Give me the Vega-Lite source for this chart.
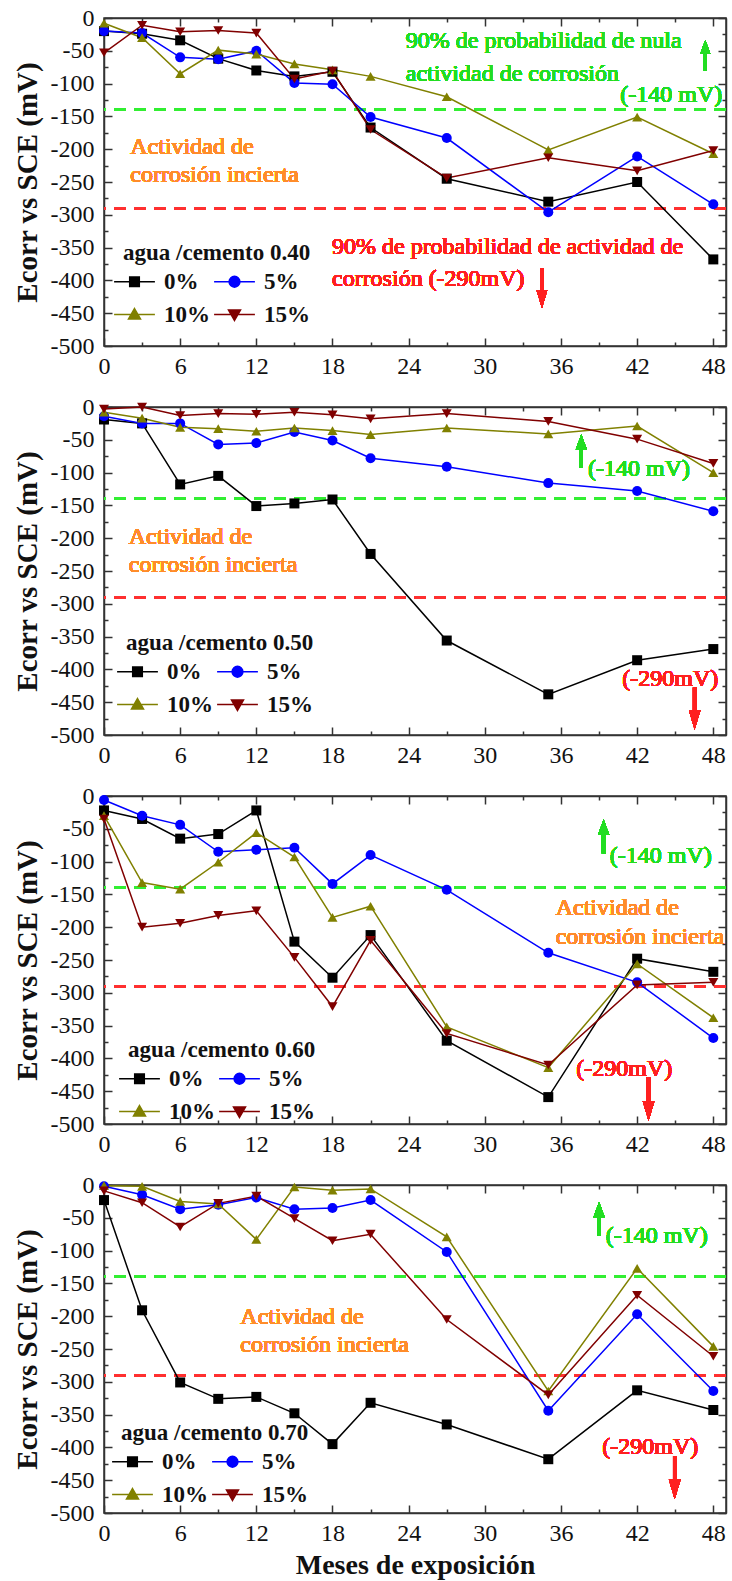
{
"$schema":"https://vega.github.io/schema/vega-lite/v6.json",
"padding":{"left":12,"top":5,"right":0,"bottom":0},
"background":"white",
"datasets":{"d":[
{"w":"0.40","s":"0%","m":0,"v":-20},{"w":"0.40","s":"0%","m":3,"v":-24},{"w":"0.40","s":"0%","m":6,"v":-34},{"w":"0.40","s":"0%","m":9,"v":-62},{"w":"0.40","s":"0%","m":12,"v":-80},{"w":"0.40","s":"0%","m":15,"v":-89},{"w":"0.40","s":"0%","m":18,"v":-82},{"w":"0.40","s":"0%","m":21,"v":-167},{"w":"0.40","s":"0%","m":27,"v":-245},{"w":"0.40","s":"0%","m":35,"v":-280},{"w":"0.40","s":"0%","m":42,"v":-250},{"w":"0.40","s":"0%","m":48,"v":-368},
{"w":"0.40","s":"5%","m":0,"v":-20},{"w":"0.40","s":"5%","m":3,"v":-23},{"w":"0.40","s":"5%","m":6,"v":-60},{"w":"0.40","s":"5%","m":9,"v":-63},{"w":"0.40","s":"5%","m":12,"v":-50},{"w":"0.40","s":"5%","m":15,"v":-99},{"w":"0.40","s":"5%","m":18,"v":-101},{"w":"0.40","s":"5%","m":21,"v":-151},{"w":"0.40","s":"5%","m":27,"v":-183},{"w":"0.40","s":"5%","m":35,"v":-296},{"w":"0.40","s":"5%","m":42,"v":-211},{"w":"0.40","s":"5%","m":48,"v":-284},
{"w":"0.40","s":"10%","m":0,"v":-8},{"w":"0.40","s":"10%","m":3,"v":-30},{"w":"0.40","s":"10%","m":6,"v":-85},{"w":"0.40","s":"10%","m":9,"v":-49},{"w":"0.40","s":"10%","m":12,"v":-55},{"w":"0.40","s":"10%","m":15,"v":-70},{"w":"0.40","s":"10%","m":18,"v":-79},{"w":"0.40","s":"10%","m":21,"v":-89},{"w":"0.40","s":"10%","m":27,"v":-120},{"w":"0.40","s":"10%","m":35,"v":-201},{"w":"0.40","s":"10%","m":42,"v":-151},{"w":"0.40","s":"10%","m":48,"v":-207},
{"w":"0.40","s":"15%","m":0,"v":-53},{"w":"0.40","s":"15%","m":3,"v":-11},{"w":"0.40","s":"15%","m":6,"v":-21},{"w":"0.40","s":"15%","m":9,"v":-19},{"w":"0.40","s":"15%","m":12,"v":-23},{"w":"0.40","s":"15%","m":15,"v":-93},{"w":"0.40","s":"15%","m":18,"v":-81},{"w":"0.40","s":"15%","m":21,"v":-170},{"w":"0.40","s":"15%","m":27,"v":-244},{"w":"0.40","s":"15%","m":35,"v":-213},{"w":"0.40","s":"15%","m":42,"v":-233},{"w":"0.40","s":"15%","m":48,"v":-202},
{"w":"0.50","s":"0%","m":0,"v":-19},{"w":"0.50","s":"0%","m":3,"v":-25},{"w":"0.50","s":"0%","m":6,"v":-118},{"w":"0.50","s":"0%","m":9,"v":-105},{"w":"0.50","s":"0%","m":12,"v":-151},{"w":"0.50","s":"0%","m":15,"v":-147},{"w":"0.50","s":"0%","m":18,"v":-141},{"w":"0.50","s":"0%","m":21,"v":-224},{"w":"0.50","s":"0%","m":27,"v":-356},{"w":"0.50","s":"0%","m":35,"v":-438},{"w":"0.50","s":"0%","m":42,"v":-386},{"w":"0.50","s":"0%","m":48,"v":-369},
{"w":"0.50","s":"5%","m":0,"v":-14},{"w":"0.50","s":"5%","m":3,"v":-25},{"w":"0.50","s":"5%","m":6,"v":-25},{"w":"0.50","s":"5%","m":9,"v":-57},{"w":"0.50","s":"5%","m":12,"v":-55},{"w":"0.50","s":"5%","m":15,"v":-38},{"w":"0.50","s":"5%","m":18,"v":-51},{"w":"0.50","s":"5%","m":21,"v":-78},{"w":"0.50","s":"5%","m":27,"v":-91},{"w":"0.50","s":"5%","m":35,"v":-116},{"w":"0.50","s":"5%","m":42,"v":-128},{"w":"0.50","s":"5%","m":48,"v":-159},
{"w":"0.50","s":"10%","m":0,"v":-8},{"w":"0.50","s":"10%","m":3,"v":-17},{"w":"0.50","s":"10%","m":6,"v":-31},{"w":"0.50","s":"10%","m":9,"v":-33},{"w":"0.50","s":"10%","m":12,"v":-37},{"w":"0.50","s":"10%","m":15,"v":-32},{"w":"0.50","s":"10%","m":18,"v":-36},{"w":"0.50","s":"10%","m":21,"v":-42},{"w":"0.50","s":"10%","m":27,"v":-32},{"w":"0.50","s":"10%","m":35,"v":-41},{"w":"0.50","s":"10%","m":42,"v":-29},{"w":"0.50","s":"10%","m":48,"v":-100},
{"w":"0.50","s":"15%","m":0,"v":-3},{"w":"0.50","s":"15%","m":3,"v":0},{"w":"0.50","s":"15%","m":6,"v":-13},{"w":"0.50","s":"15%","m":9,"v":-10},{"w":"0.50","s":"15%","m":12,"v":-11},{"w":"0.50","s":"15%","m":15,"v":-8},{"w":"0.50","s":"15%","m":18,"v":-12},{"w":"0.50","s":"15%","m":21,"v":-18},{"w":"0.50","s":"15%","m":27,"v":-10},{"w":"0.50","s":"15%","m":35,"v":-22},{"w":"0.50","s":"15%","m":42,"v":-49},{"w":"0.50","s":"15%","m":48,"v":-86},
{"w":"0.60","s":"0%","m":0,"v":-22},{"w":"0.60","s":"0%","m":3,"v":-35},{"w":"0.60","s":"0%","m":6,"v":-65},{"w":"0.60","s":"0%","m":9,"v":-58},{"w":"0.60","s":"0%","m":12,"v":-22},{"w":"0.60","s":"0%","m":15,"v":-222},{"w":"0.60","s":"0%","m":18,"v":-277},{"w":"0.60","s":"0%","m":21,"v":-212},{"w":"0.60","s":"0%","m":27,"v":-373},{"w":"0.60","s":"0%","m":35,"v":-459},{"w":"0.60","s":"0%","m":42,"v":-248},{"w":"0.60","s":"0%","m":48,"v":-268},
{"w":"0.60","s":"5%","m":0,"v":-6},{"w":"0.60","s":"5%","m":3,"v":-30},{"w":"0.60","s":"5%","m":6,"v":-44},{"w":"0.60","s":"5%","m":9,"v":-85},{"w":"0.60","s":"5%","m":12,"v":-82},{"w":"0.60","s":"5%","m":15,"v":-79},{"w":"0.60","s":"5%","m":18,"v":-134},{"w":"0.60","s":"5%","m":21,"v":-90},{"w":"0.60","s":"5%","m":27,"v":-143},{"w":"0.60","s":"5%","m":35,"v":-239},{"w":"0.60","s":"5%","m":42,"v":-284},{"w":"0.60","s":"5%","m":48,"v":-369},
{"w":"0.60","s":"10%","m":0,"v":-30},{"w":"0.60","s":"10%","m":3,"v":-132},{"w":"0.60","s":"10%","m":6,"v":-142},{"w":"0.60","s":"10%","m":9,"v":-101},{"w":"0.60","s":"10%","m":12,"v":-56},{"w":"0.60","s":"10%","m":15,"v":-93},{"w":"0.60","s":"10%","m":18,"v":-185},{"w":"0.60","s":"10%","m":21,"v":-168},{"w":"0.60","s":"10%","m":27,"v":-352},{"w":"0.60","s":"10%","m":35,"v":-414},{"w":"0.60","s":"10%","m":42,"v":-256},{"w":"0.60","s":"10%","m":48,"v":-338},
{"w":"0.60","s":"15%","m":0,"v":-35},{"w":"0.60","s":"15%","m":3,"v":-200},{"w":"0.60","s":"15%","m":6,"v":-194},{"w":"0.60","s":"15%","m":9,"v":-182},{"w":"0.60","s":"15%","m":12,"v":-175},{"w":"0.60","s":"15%","m":15,"v":-246},{"w":"0.60","s":"15%","m":18,"v":-321},{"w":"0.60","s":"15%","m":21,"v":-220},{"w":"0.60","s":"15%","m":27,"v":-362},{"w":"0.60","s":"15%","m":35,"v":-410},{"w":"0.60","s":"15%","m":42,"v":-288},{"w":"0.60","s":"15%","m":48,"v":-284},
{"w":"0.70","s":"0%","m":0,"v":-23},{"w":"0.70","s":"0%","m":3,"v":-191},{"w":"0.70","s":"0%","m":6,"v":-301},{"w":"0.70","s":"0%","m":9,"v":-326},{"w":"0.70","s":"0%","m":12,"v":-323},{"w":"0.70","s":"0%","m":15,"v":-348},{"w":"0.70","s":"0%","m":18,"v":-395},{"w":"0.70","s":"0%","m":21,"v":-332},{"w":"0.70","s":"0%","m":27,"v":-365},{"w":"0.70","s":"0%","m":35,"v":-418},{"w":"0.70","s":"0%","m":42,"v":-313},{"w":"0.70","s":"0%","m":48,"v":-343},
{"w":"0.70","s":"5%","m":0,"v":-2},{"w":"0.70","s":"5%","m":3,"v":-15},{"w":"0.70","s":"5%","m":6,"v":-37},{"w":"0.70","s":"5%","m":9,"v":-30},{"w":"0.70","s":"5%","m":12,"v":-19},{"w":"0.70","s":"5%","m":15,"v":-37},{"w":"0.70","s":"5%","m":18,"v":-35},{"w":"0.70","s":"5%","m":21,"v":-23},{"w":"0.70","s":"5%","m":27,"v":-102},{"w":"0.70","s":"5%","m":35,"v":-344},{"w":"0.70","s":"5%","m":42,"v":-197},{"w":"0.70","s":"5%","m":48,"v":-314},
{"w":"0.70","s":"10%","m":0,"v":-1},{"w":"0.70","s":"10%","m":3,"v":-2},{"w":"0.70","s":"10%","m":6,"v":-25},{"w":"0.70","s":"10%","m":9,"v":-29},{"w":"0.70","s":"10%","m":12,"v":-83},{"w":"0.70","s":"10%","m":15,"v":-3},{"w":"0.70","s":"10%","m":18,"v":-8},{"w":"0.70","s":"10%","m":21,"v":-6},{"w":"0.70","s":"10%","m":27,"v":-79},{"w":"0.70","s":"10%","m":35,"v":-314},{"w":"0.70","s":"10%","m":42,"v":-127},{"w":"0.70","s":"10%","m":48,"v":-246},
{"w":"0.70","s":"15%","m":0,"v":-9},{"w":"0.70","s":"15%","m":3,"v":-27},{"w":"0.70","s":"15%","m":6,"v":-64},{"w":"0.70","s":"15%","m":9,"v":-28},{"w":"0.70","s":"15%","m":12,"v":-17},{"w":"0.70","s":"15%","m":15,"v":-51},{"w":"0.70","s":"15%","m":18,"v":-85},{"w":"0.70","s":"15%","m":21,"v":-75},{"w":"0.70","s":"15%","m":27,"v":-205},{"w":"0.70","s":"15%","m":35,"v":-320},{"w":"0.70","s":"15%","m":42,"v":-168},{"w":"0.70","s":"15%","m":48,"v":-261}
]},
"spacing":61,
"bounds":"flush",
"resolve":{"scale":{"color":"independent","fill":"independent","stroke":"independent","shape":"independent"},"legend":{"color":"independent","fill":"independent","stroke":"independent","shape":"independent"}},
"vconcat":[
{"width":622,"height":328,"data":{"name":"d"},"transform":[{"filter":"datum.w === '0.40'"}],
"resolve":{"axis":{"x":"independent","y":"independent"},"scale":{"fill":"independent","stroke":"independent","shape":"independent"}},
"layer":[
{"mark":{"type":"rule","color":"#33EE33","strokeWidth":2,"strokeDash":[12,8]},"encoding":{"y":{"datum":-140,"type":"quantitative","axis":null}}},
{"mark":{"type":"rule","color":"#FF3030","strokeWidth":2,"strokeDash":[12,8]},"encoding":{"y":{"datum":-290,"type":"quantitative","axis":null}}},
{"mark":{"type":"text","text":"90% de probabilidad de nula","align":"left","baseline":"middle","fontSize":24,"fontWeight":"normal","color":"#22DD22"},"encoding":{"x":{"datum":23.77,"type":"quantitative","axis":null},"y":{"datum":-35.1,"type":"quantitative","axis":null}}},
{"mark":{"type":"text","text":"actividad de corrosión","align":"left","baseline":"middle","fontSize":24,"fontWeight":"normal","color":"#22DD22"},"encoding":{"x":{"datum":23.77,"type":"quantitative","axis":null},"y":{"datum":-85.8,"type":"quantitative","axis":null}}},
{"mark":{"type":"text","text":"(-140 mV)","align":"right","baseline":"middle","fontSize":24,"fontWeight":"normal","color":"#22DD22"},"encoding":{"x":{"datum":48.71,"type":"quantitative","axis":null},"y":{"datum":-117.8,"type":"quantitative","axis":null}}},
{"mark":{"type":"text","text":"Actividad de","align":"left","baseline":"middle","fontSize":24,"fontWeight":"normal","color":"#FF8C2A"},"encoding":{"x":{"datum":2.07,"type":"quantitative","axis":null},"y":{"datum":-196.2,"type":"quantitative","axis":null}}},
{"mark":{"type":"text","text":"corrosión incierta","align":"left","baseline":"middle","fontSize":24,"fontWeight":"normal","color":"#FF8C2A"},"encoding":{"x":{"datum":2.07,"type":"quantitative","axis":null},"y":{"datum":-239.3,"type":"quantitative","axis":null}}},
{"mark":{"type":"text","text":"90% de probabilidad de actividad de","align":"left","baseline":"middle","fontSize":24,"fontWeight":"normal","color":"#FF2020"},"encoding":{"x":{"datum":17.96,"type":"quantitative","axis":null},"y":{"datum":-349.1,"type":"quantitative","axis":null}}},
{"mark":{"type":"text","text":"corrosión (-290mV)","align":"left","baseline":"middle","fontSize":24,"fontWeight":"normal","color":"#FF2020"},"encoding":{"x":{"datum":17.96,"type":"quantitative","axis":null},"y":{"datum":-398.3,"type":"quantitative","axis":null}}},
{"mark":{"type":"point","shape":"M-0.1,1V-0.1H-0.33L0,-1L0.33,-0.1H0.1V1Z","size":961,"filled":true,"color":"#22DD22","opacity":1},"encoding":{"x":{"datum":47.37,"type":"quantitative","axis":null},"y":{"datum":-57.2,"type":"quantitative","axis":null}}},
{"mark":{"type":"point","shape":"M-0.08,-1V0.1H-0.27L0,1L0.27,0.1H0.08V-1Z","size":1600,"filled":true,"color":"#FF2020","opacity":1},"encoding":{"x":{"datum":34.5,"type":"quantitative","axis":null},"y":{"datum":-411.6,"type":"quantitative","axis":null}}},
{"mark":{"type":"line","strokeWidth":1.5},"encoding":{
"x":{"field":"m","type":"quantitative","scale":{"domain":[0,49],"nice":false,"zero":false},"axis":{"orient":"bottom","values":[0,3,6,9,12,15,18,21,24,27,30,33,36,39,42,45,48],"labelExpr":"datum.value % 6 === 0 ? '' + datum.value : ''","tickSize":{"condition":{"test":"datum.value % 6 === 0","value":-8},"value":-4},"labelPadding":16,"title":null}},
"y":{"field":"v","type":"quantitative","scale":{"domain":[-500,0],"nice":false,"zero":false},"axis":{"orient":"left","values":[-500,-475,-450,-425,-400,-375,-350,-325,-300,-275,-250,-225,-200,-175,-150,-125,-100,-75,-50,-25,0],"labelExpr":"datum.value % 50 === 0 ? '' + datum.value : ''","tickSize":{"condition":{"test":"datum.value % 50 === 0","value":-8},"value":-4},"labelPadding":18,"title":"Ecorr vs SCE (mV)","titleFontSize":29,"titlePadding":8}},
"color":{"field":"s","type":"nominal","scale":{"domain":["0%","5%","10%","15%"],"range":["#000000","#0000FF","#808000","#800000"]},"legend":null}}},
{"mark":{"type":"point","filled":true,"size":100,"opacity":1},"encoding":{
"x":{"field":"m","type":"quantitative","axis":null},"y":{"field":"v","type":"quantitative","axis":null},
"color":{"field":"s","type":"nominal","scale":{"domain":["0%","5%","10%","15%"],"range":["#000000","#0000FF","#808000","#800000"]},"legend":null},
"shape":{"field":"s","type":"nominal","scale":{"domain":["0%","5%","10%","15%"],"range":["square","circle","triangle-up","triangle-down"]},"legend":null}}},
{"transform":[{"filter":"datum.m < -1"}],"mark":{"type":"point","filled":true,"opacity":1},"encoding":{
"x":{"field":"m","type":"quantitative","axis":{"orient":"top","values":[0,3,6,9,12,15,18,21,24,27,30,33,36,39,42,45,48],"labels":false,"tickSize":{"condition":{"test":"datum.value % 6 === 0","value":-8},"value":-4},"title":null}},
"y":{"field":"v","type":"quantitative","axis":{"orient":"right","values":[-500,-475,-450,-425,-400,-375,-350,-325,-300,-275,-250,-225,-200,-175,-150,-125,-100,-75,-50,-25,0],"labels":false,"tickSize":{"condition":{"test":"datum.value % 50 === 0","value":-8},"value":-4},"title":null}},
"fill":{"field":"s","type":"nominal","scale":{"domain":["0%","10%","5%","15%"],"range":["#000000","#808000","#0000FF","#800000"]},"legend":{"title":"agua /cemento 0.40","orient":"none","legendX":19,"legendY":224,"columns":2}},
"stroke":{"field":"s","type":"nominal","scale":{"domain":["0%","10%","5%","15%"],"range":["#000000","#808000","#0000FF","#800000"]},"legend":{"title":"agua /cemento 0.40","orient":"none","legendX":19,"legendY":224,"columns":2}},
"shape":{"field":"s","type":"nominal","scale":{"domain":["0%","10%","5%","15%"],"range":["M-3.4,0H3.4M-0.8,-0.8H0.8V0.8H-0.8Z","M-3.4,0H3.4M0,-1L1,0.75H-1Z","M-3.4,0H3.4M-0.9,0A0.9,0.9,0,1,1,0.9,0A0.9,0.9,0,1,1,-0.9,0Z","M-3.4,0H3.4M0,1L1,-0.75H-1Z"]},"legend":{"title":"agua /cemento 0.40","orient":"none","legendX":19,"legendY":224,"columns":2}}}}
]},
{"width":622,"height":328,"data":{"name":"d"},"transform":[{"filter":"datum.w === '0.50'"}],
"resolve":{"axis":{"x":"independent","y":"independent"},"scale":{"fill":"independent","stroke":"independent","shape":"independent"}},
"layer":[
{"mark":{"type":"rule","color":"#33EE33","strokeWidth":2,"strokeDash":[12,8]},"encoding":{"y":{"datum":-140,"type":"quantitative","axis":null}}},
{"mark":{"type":"rule","color":"#FF3030","strokeWidth":2,"strokeDash":[12,8]},"encoding":{"y":{"datum":-290,"type":"quantitative","axis":null}}},
{"mark":{"type":"text","text":"(-140 mV)","align":"left","baseline":"middle","fontSize":24,"fontWeight":"normal","color":"#22DD22"},"encoding":{"x":{"datum":38.13,"type":"quantitative","axis":null},"y":{"datum":-95,"type":"quantitative","axis":null}}},
{"mark":{"type":"text","text":"Actividad de","align":"left","baseline":"middle","fontSize":24,"fontWeight":"normal","color":"#FF8C2A"},"encoding":{"x":{"datum":1.95,"type":"quantitative","axis":null},"y":{"datum":-197.7,"type":"quantitative","axis":null}}},
{"mark":{"type":"text","text":"corrosión incierta","align":"left","baseline":"middle","fontSize":24,"fontWeight":"normal","color":"#FF8C2A"},"encoding":{"x":{"datum":1.95,"type":"quantitative","axis":null},"y":{"datum":-240.9,"type":"quantitative","axis":null}}},
{"mark":{"type":"text","text":"(-290mV)","align":"left","baseline":"middle","fontSize":24,"fontWeight":"normal","color":"#FF2020"},"encoding":{"x":{"datum":40.83,"type":"quantitative","axis":null},"y":{"datum":-415.1,"type":"quantitative","axis":null}}},
{"mark":{"type":"point","shape":"M-0.1,1V-0.1H-0.33L0,-1L0.33,-0.1H0.1V1Z","size":1089,"filled":true,"color":"#22DD22","opacity":1},"encoding":{"x":{"datum":37.6,"type":"quantitative","axis":null},"y":{"datum":-67,"type":"quantitative","axis":null}}},
{"mark":{"type":"point","shape":"M-0.08,-1V0.1H-0.27L0,1L0.27,0.1H0.08V-1Z","size":1764,"filled":true,"color":"#FF2020","opacity":1},"encoding":{"x":{"datum":46.53,"type":"quantitative","axis":null},"y":{"datum":-459.6,"type":"quantitative","axis":null}}},
{"mark":{"type":"line","strokeWidth":1.5},"encoding":{
"x":{"field":"m","type":"quantitative","scale":{"domain":[0,49],"nice":false,"zero":false},"axis":{"orient":"bottom","values":[0,3,6,9,12,15,18,21,24,27,30,33,36,39,42,45,48],"labelExpr":"datum.value % 6 === 0 ? '' + datum.value : ''","tickSize":{"condition":{"test":"datum.value % 6 === 0","value":-8},"value":-4},"labelPadding":16,"title":null}},
"y":{"field":"v","type":"quantitative","scale":{"domain":[-500,0],"nice":false,"zero":false},"axis":{"orient":"left","values":[-500,-475,-450,-425,-400,-375,-350,-325,-300,-275,-250,-225,-200,-175,-150,-125,-100,-75,-50,-25,0],"labelExpr":"datum.value % 50 === 0 ? '' + datum.value : ''","tickSize":{"condition":{"test":"datum.value % 50 === 0","value":-8},"value":-4},"labelPadding":18,"title":"Ecorr vs SCE (mV)","titleFontSize":29,"titlePadding":8}},
"color":{"field":"s","type":"nominal","scale":{"domain":["0%","5%","10%","15%"],"range":["#000000","#0000FF","#808000","#800000"]},"legend":null}}},
{"mark":{"type":"point","filled":true,"size":100,"opacity":1},"encoding":{
"x":{"field":"m","type":"quantitative","axis":null},"y":{"field":"v","type":"quantitative","axis":null},
"color":{"field":"s","type":"nominal","scale":{"domain":["0%","5%","10%","15%"],"range":["#000000","#0000FF","#808000","#800000"]},"legend":null},
"shape":{"field":"s","type":"nominal","scale":{"domain":["0%","5%","10%","15%"],"range":["square","circle","triangle-up","triangle-down"]},"legend":null}}},
{"transform":[{"filter":"datum.m < -1"}],"mark":{"type":"point","filled":true,"opacity":1},"encoding":{
"x":{"field":"m","type":"quantitative","axis":{"orient":"top","values":[0,3,6,9,12,15,18,21,24,27,30,33,36,39,42,45,48],"labels":false,"tickSize":{"condition":{"test":"datum.value % 6 === 0","value":-8},"value":-4},"title":null}},
"y":{"field":"v","type":"quantitative","axis":{"orient":"right","values":[-500,-475,-450,-425,-400,-375,-350,-325,-300,-275,-250,-225,-200,-175,-150,-125,-100,-75,-50,-25,0],"labels":false,"tickSize":{"condition":{"test":"datum.value % 50 === 0","value":-8},"value":-4},"title":null}},
"fill":{"field":"s","type":"nominal","scale":{"domain":["0%","10%","5%","15%"],"range":["#000000","#808000","#0000FF","#800000"]},"legend":{"title":"agua /cemento 0.50","orient":"none","legendX":22,"legendY":225,"columns":2}},
"stroke":{"field":"s","type":"nominal","scale":{"domain":["0%","10%","5%","15%"],"range":["#000000","#808000","#0000FF","#800000"]},"legend":{"title":"agua /cemento 0.50","orient":"none","legendX":22,"legendY":225,"columns":2}},
"shape":{"field":"s","type":"nominal","scale":{"domain":["0%","10%","5%","15%"],"range":["M-3.4,0H3.4M-0.8,-0.8H0.8V0.8H-0.8Z","M-3.4,0H3.4M0,-1L1,0.75H-1Z","M-3.4,0H3.4M-0.9,0A0.9,0.9,0,1,1,0.9,0A0.9,0.9,0,1,1,-0.9,0Z","M-3.4,0H3.4M0,1L1,-0.75H-1Z"]},"legend":{"title":"agua /cemento 0.50","orient":"none","legendX":22,"legendY":225,"columns":2}}}}
]},
{"width":622,"height":328,"data":{"name":"d"},"transform":[{"filter":"datum.w === '0.60'"}],
"resolve":{"axis":{"x":"independent","y":"independent"},"scale":{"fill":"independent","stroke":"independent","shape":"independent"}},
"layer":[
{"mark":{"type":"rule","color":"#33EE33","strokeWidth":2,"strokeDash":[12,8]},"encoding":{"y":{"datum":-140,"type":"quantitative","axis":null}}},
{"mark":{"type":"rule","color":"#FF3030","strokeWidth":2,"strokeDash":[12,8]},"encoding":{"y":{"datum":-290,"type":"quantitative","axis":null}}},
{"mark":{"type":"text","text":"(-140 mV)","align":"left","baseline":"middle","fontSize":24,"fontWeight":"normal","color":"#22DD22"},"encoding":{"x":{"datum":39.84,"type":"quantitative","axis":null},"y":{"datum":-91.5,"type":"quantitative","axis":null}}},
{"mark":{"type":"text","text":"Actividad de","align":"left","baseline":"middle","fontSize":24,"fontWeight":"normal","color":"#FF8C2A"},"encoding":{"x":{"datum":35.58,"type":"quantitative","axis":null},"y":{"datum":-170.3,"type":"quantitative","axis":null}}},
{"mark":{"type":"text","text":"corrosión incierta","align":"left","baseline":"middle","fontSize":24,"fontWeight":"normal","color":"#FF8C2A"},"encoding":{"x":{"datum":35.58,"type":"quantitative","axis":null},"y":{"datum":-214.5,"type":"quantitative","axis":null}}},
{"mark":{"type":"text","text":"(-290mV)","align":"left","baseline":"middle","fontSize":24,"fontWeight":"normal","color":"#FF2020"},"encoding":{"x":{"datum":37.21,"type":"quantitative","axis":null},"y":{"datum":-416.6,"type":"quantitative","axis":null}}},
{"mark":{"type":"point","shape":"M-0.1,1V-0.1H-0.33L0,-1L0.33,-0.1H0.1V1Z","size":1156,"filled":true,"color":"#22DD22","opacity":1},"encoding":{"x":{"datum":39.36,"type":"quantitative","axis":null},"y":{"datum":-61.7,"type":"quantitative","axis":null}}},
{"mark":{"type":"point","shape":"M-0.08,-1V0.1H-0.27L0,1L0.27,0.1H0.08V-1Z","size":1849,"filled":true,"color":"#FF2020","opacity":1},"encoding":{"x":{"datum":42.9,"type":"quantitative","axis":null},"y":{"datum":-462,"type":"quantitative","axis":null}}},
{"mark":{"type":"line","strokeWidth":1.5},"encoding":{
"x":{"field":"m","type":"quantitative","scale":{"domain":[0,49],"nice":false,"zero":false},"axis":{"orient":"bottom","values":[0,3,6,9,12,15,18,21,24,27,30,33,36,39,42,45,48],"labelExpr":"datum.value % 6 === 0 ? '' + datum.value : ''","tickSize":{"condition":{"test":"datum.value % 6 === 0","value":-8},"value":-4},"labelPadding":16,"title":null}},
"y":{"field":"v","type":"quantitative","scale":{"domain":[-500,0],"nice":false,"zero":false},"axis":{"orient":"left","values":[-500,-475,-450,-425,-400,-375,-350,-325,-300,-275,-250,-225,-200,-175,-150,-125,-100,-75,-50,-25,0],"labelExpr":"datum.value % 50 === 0 ? '' + datum.value : ''","tickSize":{"condition":{"test":"datum.value % 50 === 0","value":-8},"value":-4},"labelPadding":18,"title":"Ecorr vs SCE (mV)","titleFontSize":29,"titlePadding":8}},
"color":{"field":"s","type":"nominal","scale":{"domain":["0%","5%","10%","15%"],"range":["#000000","#0000FF","#808000","#800000"]},"legend":null}}},
{"mark":{"type":"point","filled":true,"size":100,"opacity":1},"encoding":{
"x":{"field":"m","type":"quantitative","axis":null},"y":{"field":"v","type":"quantitative","axis":null},
"color":{"field":"s","type":"nominal","scale":{"domain":["0%","5%","10%","15%"],"range":["#000000","#0000FF","#808000","#800000"]},"legend":null},
"shape":{"field":"s","type":"nominal","scale":{"domain":["0%","5%","10%","15%"],"range":["square","circle","triangle-up","triangle-down"]},"legend":null}}},
{"transform":[{"filter":"datum.m < -1"}],"mark":{"type":"point","filled":true,"opacity":1},"encoding":{
"x":{"field":"m","type":"quantitative","axis":{"orient":"top","values":[0,3,6,9,12,15,18,21,24,27,30,33,36,39,42,45,48],"labels":false,"tickSize":{"condition":{"test":"datum.value % 6 === 0","value":-8},"value":-4},"title":null}},
"y":{"field":"v","type":"quantitative","axis":{"orient":"right","values":[-500,-475,-450,-425,-400,-375,-350,-325,-300,-275,-250,-225,-200,-175,-150,-125,-100,-75,-50,-25,0],"labels":false,"tickSize":{"condition":{"test":"datum.value % 50 === 0","value":-8},"value":-4},"title":null}},
"fill":{"field":"s","type":"nominal","scale":{"domain":["0%","10%","5%","15%"],"range":["#000000","#808000","#0000FF","#800000"]},"legend":{"title":"agua /cemento 0.60","orient":"none","legendX":24,"legendY":243,"columns":2}},
"stroke":{"field":"s","type":"nominal","scale":{"domain":["0%","10%","5%","15%"],"range":["#000000","#808000","#0000FF","#800000"]},"legend":{"title":"agua /cemento 0.60","orient":"none","legendX":24,"legendY":243,"columns":2}},
"shape":{"field":"s","type":"nominal","scale":{"domain":["0%","10%","5%","15%"],"range":["M-3.4,0H3.4M-0.8,-0.8H0.8V0.8H-0.8Z","M-3.4,0H3.4M0,-1L1,0.75H-1Z","M-3.4,0H3.4M-0.9,0A0.9,0.9,0,1,1,0.9,0A0.9,0.9,0,1,1,-0.9,0Z","M-3.4,0H3.4M0,1L1,-0.75H-1Z"]},"legend":{"title":"agua /cemento 0.60","orient":"none","legendX":24,"legendY":243,"columns":2}}}}
]},
{"width":622,"height":328,"data":{"name":"d"},"transform":[{"filter":"datum.w === '0.70'"}],
"resolve":{"axis":{"x":"independent","y":"independent"},"scale":{"fill":"independent","stroke":"independent","shape":"independent"}},
"layer":[
{"mark":{"type":"rule","color":"#33EE33","strokeWidth":2,"strokeDash":[12,8]},"encoding":{"y":{"datum":-140,"type":"quantitative","axis":null}}},
{"mark":{"type":"rule","color":"#FF3030","strokeWidth":2,"strokeDash":[12,8]},"encoding":{"y":{"datum":-290,"type":"quantitative","axis":null}}},
{"mark":{"type":"text","text":"(-140 mV)","align":"left","baseline":"middle","fontSize":24,"fontWeight":"normal","color":"#22DD22"},"encoding":{"x":{"datum":39.52,"type":"quantitative","axis":null},"y":{"datum":-77.7,"type":"quantitative","axis":null}}},
{"mark":{"type":"text","text":"Actividad de","align":"left","baseline":"middle","fontSize":24,"fontWeight":"normal","color":"#FF8C2A"},"encoding":{"x":{"datum":10.74,"type":"quantitative","axis":null},"y":{"datum":-200.8,"type":"quantitative","axis":null}}},
{"mark":{"type":"text","text":"corrosión incierta","align":"left","baseline":"middle","fontSize":24,"fontWeight":"normal","color":"#FF8C2A"},"encoding":{"x":{"datum":10.74,"type":"quantitative","axis":null},"y":{"datum":-243.9,"type":"quantitative","axis":null}}},
{"mark":{"type":"text","text":"(-290mV)","align":"left","baseline":"middle","fontSize":24,"fontWeight":"normal","color":"#FF2020"},"encoding":{"x":{"datum":39.26,"type":"quantitative","axis":null},"y":{"datum":-399.4,"type":"quantitative","axis":null}}},
{"mark":{"type":"point","shape":"M-0.1,1V-0.1H-0.33L0,-1L0.33,-0.1H0.1V1Z","size":1156,"filled":true,"color":"#22DD22","opacity":1},"encoding":{"x":{"datum":39.0,"type":"quantitative","axis":null},"y":{"datum":-51.8,"type":"quantitative","axis":null}}},
{"mark":{"type":"point","shape":"M-0.08,-1V0.1H-0.27L0,1L0.27,0.1H0.08V-1Z","size":1849,"filled":true,"color":"#FF2020","opacity":1},"encoding":{"x":{"datum":44.96,"type":"quantitative","axis":null},"y":{"datum":-445.9,"type":"quantitative","axis":null}}},
{"mark":{"type":"line","strokeWidth":1.5},"encoding":{
"x":{"field":"m","type":"quantitative","scale":{"domain":[0,49],"nice":false,"zero":false},"axis":{"orient":"bottom","values":[0,3,6,9,12,15,18,21,24,27,30,33,36,39,42,45,48],"labelExpr":"datum.value % 6 === 0 ? '' + datum.value : ''","tickSize":{"condition":{"test":"datum.value % 6 === 0","value":-8},"value":-4},"labelPadding":16,"title":"Meses de exposición","titleFontSize":28,"titlePadding":2}},
"y":{"field":"v","type":"quantitative","scale":{"domain":[-500,0],"nice":false,"zero":false},"axis":{"orient":"left","values":[-500,-475,-450,-425,-400,-375,-350,-325,-300,-275,-250,-225,-200,-175,-150,-125,-100,-75,-50,-25,0],"labelExpr":"datum.value % 50 === 0 ? '' + datum.value : ''","tickSize":{"condition":{"test":"datum.value % 50 === 0","value":-8},"value":-4},"labelPadding":18,"title":"Ecorr vs SCE (mV)","titleFontSize":29,"titlePadding":8}},
"color":{"field":"s","type":"nominal","scale":{"domain":["0%","5%","10%","15%"],"range":["#000000","#0000FF","#808000","#800000"]},"legend":null}}},
{"mark":{"type":"point","filled":true,"size":100,"opacity":1},"encoding":{
"x":{"field":"m","type":"quantitative","axis":null},"y":{"field":"v","type":"quantitative","axis":null},
"color":{"field":"s","type":"nominal","scale":{"domain":["0%","5%","10%","15%"],"range":["#000000","#0000FF","#808000","#800000"]},"legend":null},
"shape":{"field":"s","type":"nominal","scale":{"domain":["0%","5%","10%","15%"],"range":["square","circle","triangle-up","triangle-down"]},"legend":null}}},
{"transform":[{"filter":"datum.m < -1"}],"mark":{"type":"point","filled":true,"opacity":1},"encoding":{
"x":{"field":"m","type":"quantitative","axis":{"orient":"top","values":[0,3,6,9,12,15,18,21,24,27,30,33,36,39,42,45,48],"labels":false,"tickSize":{"condition":{"test":"datum.value % 6 === 0","value":-8},"value":-4},"title":null}},
"y":{"field":"v","type":"quantitative","axis":{"orient":"right","values":[-500,-475,-450,-425,-400,-375,-350,-325,-300,-275,-250,-225,-200,-175,-150,-125,-100,-75,-50,-25,0],"labels":false,"tickSize":{"condition":{"test":"datum.value % 50 === 0","value":-8},"value":-4},"title":null}},
"fill":{"field":"s","type":"nominal","scale":{"domain":["0%","10%","5%","15%"],"range":["#000000","#808000","#0000FF","#800000"]},"legend":{"title":"agua /cemento 0.70","orient":"none","legendX":17,"legendY":237,"columns":2}},
"stroke":{"field":"s","type":"nominal","scale":{"domain":["0%","10%","5%","15%"],"range":["#000000","#808000","#0000FF","#800000"]},"legend":{"title":"agua /cemento 0.70","orient":"none","legendX":17,"legendY":237,"columns":2}},
"shape":{"field":"s","type":"nominal","scale":{"domain":["0%","10%","5%","15%"],"range":["M-3.4,0H3.4M-0.8,-0.8H0.8V0.8H-0.8Z","M-3.4,0H3.4M0,-1L1,0.75H-1Z","M-3.4,0H3.4M-0.9,0A0.9,0.9,0,1,1,0.9,0A0.9,0.9,0,1,1,-0.9,0Z","M-3.4,0H3.4M0,1L1,-0.75H-1Z"]},"legend":{"title":"agua /cemento 0.70","orient":"none","legendX":17,"legendY":237,"columns":2}}}}
]}
],
"config":{
"font":"Liberation Serif",
"view":{"stroke":"#333333","strokeWidth":1.5},
"point":{"opacity":1},
"axis":{"labelFont":"Liberation Serif","labelFontSize":24,"labelColor":"#111111","titleFont":"Liberation Serif","titleFontWeight":"bold","titleColor":"#111111","domainColor":"#333333","tickColor":"#333333","domainWidth":1.5,"tickWidth":1.5,"grid":false,"labelFlush":false,"labelOverlap":false,"labelBound":false},
"legend":{"labelFont":"Liberation Serif","labelFontSize":23,"labelFontWeight":"bold","labelColor":"#111111","titleFont":"Liberation Serif","titleFontSize":23,"titleFontWeight":"bold","titleColor":"#111111","symbolSize":144,"symbolStrokeWidth":1.5,"labelOffset":18,"columnPadding":1,"rowPadding":9,"titlePadding":5,"padding":0,"titleLimit":400}
}
}
